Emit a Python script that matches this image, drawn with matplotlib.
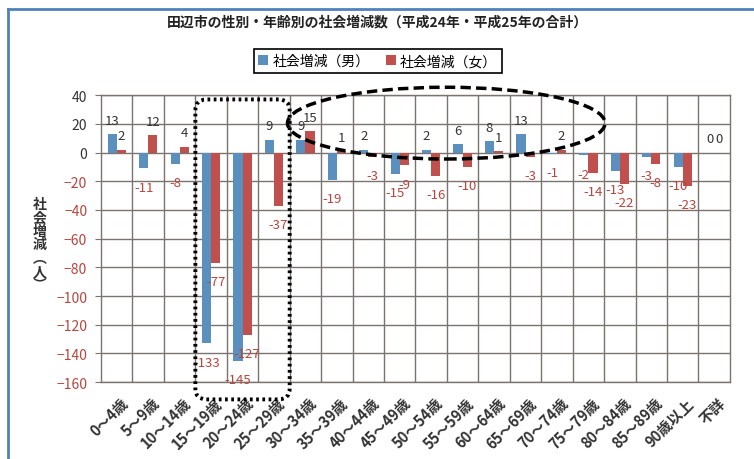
import matplotlib
matplotlib.use('Agg')
import matplotlib.pyplot as plt
import numpy as np
from matplotlib.patches import FancyBboxPatch, Ellipse
from matplotlib.lines import Line2D

plt.rcParams['font.family'] = ['Noto Sans CJK JP', 'DejaVu Sans']

# Data
categories = ['0～4歳', '5～9歳', '10～14歳', '15～19歳', '20～24歳', '25～29歳',
              '30～34歳', '35～39歳', '40～44歳', '45～49歳', '50～54歳', '55～59歳',
              '60～64歳', '65～69歳', '70～74歳', '75～79歳', '80～84歳', '85～89歳',
              '90歳以上', '不詳']
male = [13, -11, -8, -133, -145, 9, 9, -19, 2, -15, 2, 6, 8, 13, -1, -2, -13, -3, -10, 0]
female = [2, 12, 4, -77, -127, -37, 15, 1, -3, -9, -16, -10, 1, -3, 2, -14, -22, -8, -23, 0]
yticks = list(range(-160, 41, 20))

blue = '#5b8fbd'
red = '#c0504d'
labred = '#b8453f'
gridc = '#7a7470'

fig = plt.figure(figsize=(7.54, 4.6), dpi=100)
ax = fig.add_axes([0.134, 0.167, 0.834, 0.624])

x = np.arange(len(categories))
w = 0.29
ax.bar(x - w / 2, male, w, color=blue, label='社会増減（男）', zorder=3)
ax.bar(x + w / 2, female, w, color=red, label='社会増減（女）', zorder=3)

# data labels
for xs, vals in ((x - w / 2, male), (x + w / 2, female)):
    for xi, v in zip(xs, vals):
        if v >= 0:
            ax.annotate(str(v), (xi, v), xytext=(0, 10), textcoords='offset points',
                        ha='center', va='center', fontsize=9.5, color='#333333', zorder=4)
        else:
            ax.annotate(str(v), (xi, v), xytext=(0, -13.5), textcoords='offset points',
                        ha='center', va='center', fontsize=9.5, color=labred, zorder=4)

ax.set_xlim(-0.5, len(categories) - 0.5)
ax.set_ylim(-160, 40)
ax.set_yticks(yticks)
ax.set_xticks(x + 0.1)
ax.set_xticks(x[:-1] + 0.5, minor=True)
ax.set_xticklabels(categories, rotation=45, ha='right', rotation_mode='anchor',
                   fontsize=10.5, fontweight='bold', color='#333333')
ax.tick_params(axis='x', which='both', length=0, pad=9)
ax.tick_params(axis='y', length=4, color=gridc, labelsize=10, pad=6)
for lab, v in zip(ax.get_yticklabels(), yticks):
    lab.set_color(labred if v < 0 else '#333333')

ax.grid(True, which='major', axis='y', color=gridc, lw=1, zorder=1)
ax.grid(True, which='minor', axis='x', color=gridc, lw=1, zorder=1)
for s in ax.spines.values():
    s.set_color(gridc)
    s.set_linewidth(1)

# annotations: dotted box and dashed ellipse
box = FancyBboxPatch((2.5, -172), 3.0, 209, boxstyle='round,pad=0,rounding_size=0.35',
                     mutation_aspect=22, fill=False, ec='black', lw=2.8,
                     ls=(0, (0.7, 0.9)), transform=ax.transData, clip_on=False, zorder=5)
ax.add_patch(box)
ell = Ellipse((10.48, 20.5), 10.1, 50, fill=False, ec='black', lw=2.5,
              ls=(0, (3, 1.5)), clip_on=False, zorder=5)
ax.add_patch(ell)

fig.text(0.5, 0.952, '田辺市の性別・年齢別の社会増減数（平成24年・平成25年の合計）',
         ha='center', va='center', fontsize=10, fontweight='bold', color='#222222')
fig.text(0.053, 0.467, '社\n会\n増\n減\n︵\n人\n︶', ha='center', va='center',
         fontsize=10, fontweight='bold', color='#333333', linespacing=0.95)

leg = fig.legend(loc='center', bbox_to_anchor=(0.501, 0.865), ncol=2, frameon=True,
                 fancybox=False, edgecolor='black', framealpha=1, fontsize=10,
                 handlelength=0.7, handleheight=0.7, handletextpad=0.3,
                 columnspacing=1.2, borderpad=0.35)
leg.get_frame().set_linewidth(1.2)

# outer blue frame
fig.add_artist(Line2D([8 / 754, 8 / 754], [0, 1 - 10 / 460], color='#4f81bd', lw=2))
fig.add_artist(Line2D([8 / 754, 1], [1 - 10 / 460, 1 - 10 / 460], color='#4f81bd', lw=2))

fig.savefig('out.png', dpi=100)
